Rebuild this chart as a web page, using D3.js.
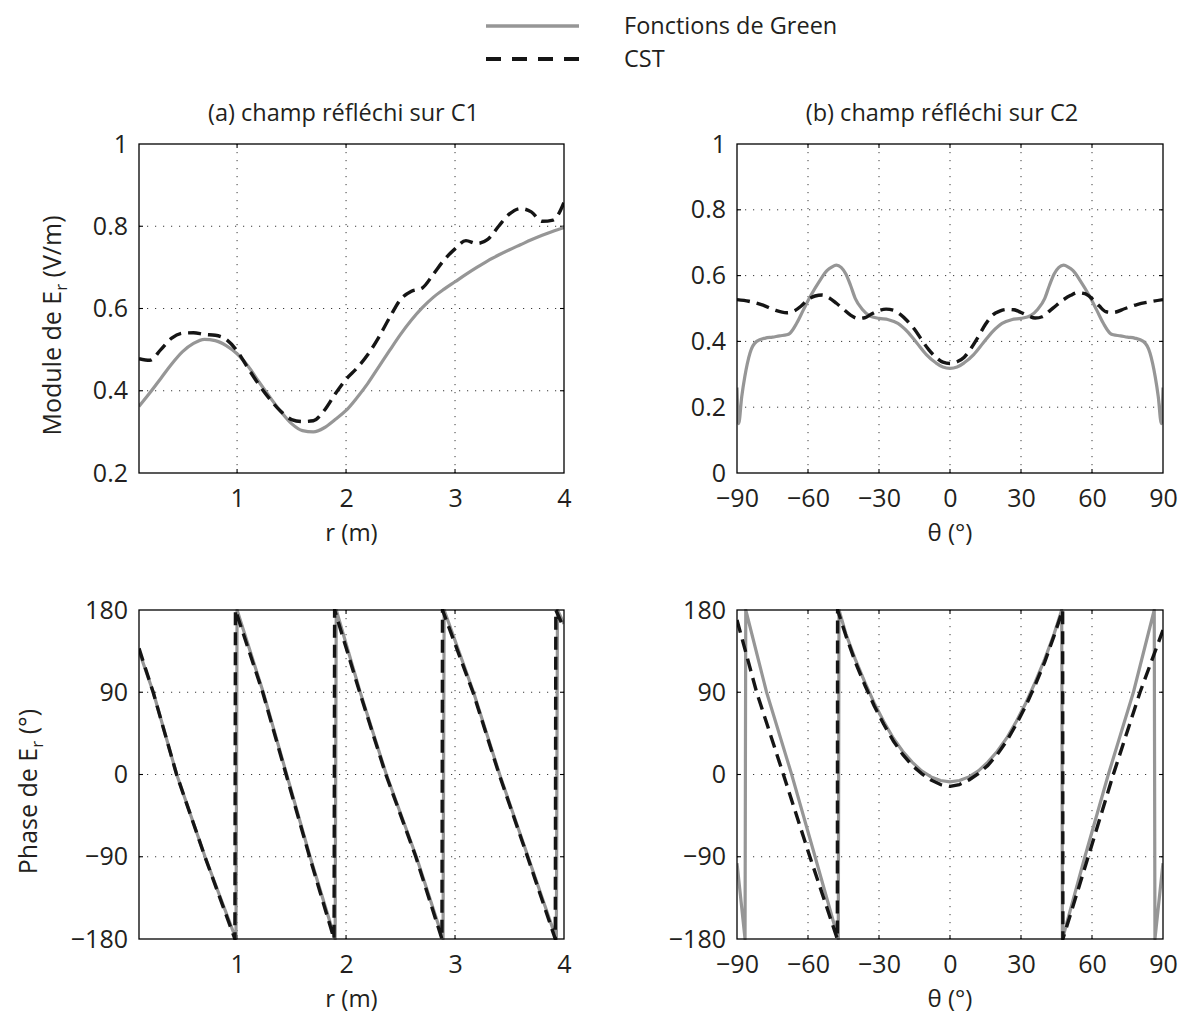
<!DOCTYPE html>
<html><head><meta charset="utf-8">
<script src="https://cdn.jsdelivr.net/npm/d3@7"></script>
<style>
body{margin:0;background:#fff;}
svg text{font-family:"Open Sans",sans-serif;fill:#231f20;}
</style></head><body>
<svg id="chart" width="1184" height="1014"></svg>
<script>
// ---------- DATA ----------
const seriesNames = ["Fonctions de Green", "CST"];
const titles = ["(a) champ réfléchi sur C1", "(b) champ réfléchi sur C2"];

// (a) module vs r
const aR = [0.1,0.2,0.3,0.4,0.5,0.6,0.7,0.8,0.9,1.0,1.1,1.2,1.3,1.4,1.5,1.6,1.7,1.8,1.9,2.0,
            2.1,2.2,2.3,2.4,2.5,2.6,2.7,2.8,2.9,3.0,3.1,3.2,3.3,3.4,3.5,3.6,3.7,3.8,3.9,4.0];
const aGreen = [0.362,0.395,0.430,0.465,0.495,0.515,0.525,0.522,0.510,0.490,0.460,0.422,0.385,0.350,0.320,0.303,0.300,0.310,0.330,0.352,
                0.383,0.418,0.458,0.498,0.537,0.572,0.602,0.627,0.647,0.665,0.683,0.700,0.716,0.730,0.743,0.755,0.767,0.778,0.788,0.797];
const aCST = [0.478,0.474,0.500,0.528,0.540,0.541,0.537,0.535,0.525,0.497,0.455,0.415,0.380,0.350,0.330,0.325,0.327,0.352,0.392,0.428,
              0.455,0.488,0.530,0.578,0.622,0.642,0.650,0.683,0.718,0.745,0.765,0.758,0.768,0.800,0.830,0.843,0.835,0.812,0.815,0.858];

// (b) module vs theta
const bThetaGreen = [-90,-89.3,-88,-86.7,-84.5,-81.7,-78,-75,-72,-69,-67.6,-64.8,-62,-59,-55,-52,-50,-48,-46,-44,-42,-40,-37,-34,-30,-26,-22,-18,-14,-10,-6,-3,0,
                     3,6,10,14,18,22,26,30,34,37,40,42,44,46,48,50,52,55,59,62,64.8,67.6,69,72,75,78,81.7,84.5,86.7,88,89.3,90];
const bGreen = [0.26,0.15,0.232,0.293,0.365,0.40,0.41,0.413,0.417,0.42,0.425,0.455,0.495,0.537,0.585,0.615,0.626,0.632,0.625,0.605,0.57,0.53,0.497,0.478,0.47,0.466,0.455,0.43,0.395,0.36,0.335,0.322,0.318,
                0.322,0.335,0.36,0.395,0.43,0.455,0.466,0.47,0.478,0.497,0.53,0.57,0.605,0.625,0.632,0.626,0.615,0.585,0.537,0.495,0.455,0.425,0.42,0.417,0.413,0.41,0.40,0.365,0.293,0.232,0.15,0.26];
const bThetaCST = [-90,-85,-79,-74,-69,-66,-63,-60,-57,-54,-51,-48,-45,-42,-39,-36,-33,-30,-27,-24,-21,-18,-15,-12,-9,-6,-3,0,
                   3,6,9,12,15,18,21,24,27,30,33,36,39,42,45,48,51,54,57,60,63,66,69,74,79,85,90];
const bCST = [0.527,0.522,0.510,0.495,0.487,0.492,0.507,0.527,0.538,0.541,0.532,0.516,0.498,0.480,0.470,0.472,0.484,0.494,0.498,0.495,0.482,0.462,0.437,0.405,0.375,0.352,0.337,0.333,
              0.338,0.352,0.380,0.415,0.452,0.480,0.492,0.497,0.496,0.488,0.478,0.471,0.475,0.492,0.510,0.527,0.540,0.548,0.545,0.530,0.508,0.490,0.488,0.500,0.512,0.521,0.527];

// (c) phase vs r
const cRGreen = [0.1,0.231,0.446,0.706,0.99,1.0,1.24,1.455,1.67,1.90,1.91,2.13,2.37,2.645,2.89,2.90,3.17,3.41,3.67,3.93,3.94,4.0];
const cGreen = [135,90,0,-90,-180,180,90,0,-90,-180,180,90,0,-90,-180,180,90,0,-90,-180,180,165];
const cRCST = [0.1,0.23,0.445,0.705,0.98,0.985,1.235,1.45,1.665,1.89,1.895,2.125,2.365,2.64,2.88,2.885,3.165,3.405,3.665,3.92,3.925,4.0];
const cCST = [138,90,0,-90,-180,180,90,0,-90,-180,180,90,0,-90,-180,180,90,0,-90,-180,180,160];

// (d) phase vs theta
const dThetaGreen = [-90,-86.6,-86.3,-77.5,-66.9,-57,-47.2,-46.9,-44,-40,-36,-32,-28,-24,-20,-16,-12,-8,-4,0,
                     4,8,12,16,20,24,28,32,36,40,44,47.2,47.5,57,66.9,77.5,86.3,86.6,90];
const dGreen = [-97,-180,180,90,0,-90,-180,180,154,126,101,78,58,40,25.5,13.5,4,-2.6,-6.6,-8,
                -6.6,-2.6,4,13.5,25.5,40,58,78,101,126,154,180,-180,-90,0,90,180,-180,-97];
const dThetaCST = [-90,-86,-81.7,-70.4,-59.2,-47.6,-47.5,-44,-40,-36,-32,-28,-24,-20,-16,-12,-8,-4,0,
                   4,8,12,16,20,24,28,32,36,40,44,47.6,47.7,58.4,69,80.3,90];
const dCST = [169,131,90,0,-90,-180,180,152,123,98,75,55,37,22,10,1,-6,-11,-13,
              -11,-6,1,10,22,37,55,75,98,123,152,180,-180,-90,0,90,158];

const rTicks = [1,2,3,4];
const thetaTicks = [-90,-60,-30,0,30,60,90];
const modATicks = [0.2,0.4,0.6,0.8,1];
const modBTicks = [0,0.2,0.4,0.6,0.8,1];
const phaseTicks = [-180,-90,0,90,180];

// ---------- DRAW ----------
const svg = d3.select("#chart");
const GREY = "#969696", DARK = "#151515";
const fmtMod = d => (d === 0 ? "0" : d === 1 ? "1" : d3.format(".1f")(d));
const fmtInt = d3.format("d");

let clipId = 0;
function panel(cfg) {
  const b = cfg.box;
  const x = d3.scaleLinear().domain(cfg.xDomain).range([b.x0, b.x1]);
  const y = d3.scaleLinear().domain(cfg.yDomain).range([b.y1, b.y0]);
  const g = svg.append("g");
  const inX = cfg.xTicks.filter(t => t > cfg.xDomain[0] && t < cfg.xDomain[1]);
  const inY = cfg.yTicks.filter(t => t > cfg.yDomain[0] && t < cfg.yDomain[1]);

  // dotted grid
  g.selectAll("line.gx").data(inX).join("line").attr("class", "gx")
    .attr("x1", d => x(d)).attr("x2", d => x(d)).attr("y1", b.y0).attr("y2", b.y1)
    .attr("stroke", "#3a3a3a").attr("stroke-width", 1).attr("stroke-dasharray", "1.2,6.8");
  g.selectAll("line.gy").data(inY).join("line").attr("class", "gy")
    .attr("y1", d => y(d)).attr("y2", d => y(d)).attr("x1", b.x0).attr("x2", b.x1)
    .attr("stroke", "#3a3a3a").attr("stroke-width", 1).attr("stroke-dasharray", "1.2,6.8");

  // inner tick marks on all four sides
  const tl = 4;
  g.selectAll("line.tx").data(inX.flatMap(d => [[d, b.y1, -tl], [d, b.y0, tl]])).join("line")
    .attr("x1", d => x(d[0])).attr("x2", d => x(d[0])).attr("y1", d => d[1]).attr("y2", d => d[1] + d[2])
    .attr("stroke", "#000").attr("stroke-width", 1.1);
  g.selectAll("line.ty").data(inY.flatMap(d => [[d, b.x0, tl], [d, b.x1, -tl]])).join("line")
    .attr("y1", d => y(d[0])).attr("y2", d => y(d[0])).attr("x1", d => d[1]).attr("x2", d => d[1] + d[2])
    .attr("stroke", "#000").attr("stroke-width", 1.1);

  // data
  const id = "clip" + (clipId++);
  svg.append("clipPath").attr("id", id).append("rect")
    .attr("x", b.x0).attr("y", b.y0 - 1).attr("width", b.x1 - b.x0).attr("height", b.y1 - b.y0 + 2);
  const dg = g.append("g").attr("clip-path", `url(#${id})`);
  cfg.series.forEach(s => {
    const pts = s.xs.map((v, i) => [v, s.ys[i]]);
    const line = d3.line().x(d => x(d[0])).y(d => y(d[1])).curve(cfg.curve);
    dg.append("path").attr("d", line(pts)).attr("fill", "none")
      .attr("stroke", s.color).attr("stroke-width", s.width)
      .attr("stroke-dasharray", s.dash || null).attr("stroke-linejoin", "round");
  });

  // frame
  g.append("rect").attr("x", b.x0).attr("y", b.y0).attr("width", b.x1 - b.x0).attr("height", b.y1 - b.y0)
    .attr("fill", "none").attr("stroke", "#000").attr("stroke-width", 1.3);

  // axes labels (d3 axes, no lines)
  const ax = g.append("g").attr("transform", `translate(0,${b.y1})`)
    .call(d3.axisBottom(x).tickValues(cfg.xTicks).tickFormat(cfg.xFmt).tickSize(0).tickPadding(16));
  const ay = g.append("g").attr("transform", `translate(${b.x0},0)`)
    .call(d3.axisLeft(y).tickValues(cfg.yTicks).tickFormat(cfg.yFmt).tickSize(0).tickPadding(11));
  [ax, ay].forEach(a => {
    a.select(".domain").remove();
    a.selectAll("text").attr("font-size", 25).attr("fill", "#231f20").style("font-family", '"Open Sans",sans-serif');
  });

  // x label
  g.append("text").attr("x", (b.x0 + b.x1) / 2).attr("y", b.y1 + 68).attr("text-anchor", "middle")
    .attr("font-size", 24).text(cfg.xLabel);

  if (cfg.yLabel) {
    const t = g.append("text").attr("transform", `translate(${cfg.yLabelX},${(b.y0 + b.y1) / 2 + 17}) rotate(-90)`)
      .attr("text-anchor", "middle").attr("font-size", 25);
    t.append("tspan").text(cfg.yLabel[0]);
    t.append("tspan").attr("font-size", 17).attr("dy", 6).text(cfg.yLabel[1]);
    t.append("tspan").attr("dy", -6).text(cfg.yLabel[2]);
  }
  if (cfg.title) {
    g.append("text").attr("x", (b.x0 + b.x1) / 2 - 8).attr("y", b.y0 - 23).attr("text-anchor", "middle")
      .attr("font-size", 23.5).text(cfg.title);
  }
}

const green = (xs, ys) => ({xs, ys, color: GREY, width: 3.2});
const cst = (xs, ys) => ({xs, ys, color: DARK, width: 3.4, dash: "13,7"});

panel({box: {x0: 139, x1: 564, y0: 144, y1: 473}, xDomain: [0.1, 4], yDomain: [0.2, 1],
  xTicks: rTicks, yTicks: modATicks, xFmt: fmtInt, yFmt: fmtMod, curve: d3.curveMonotoneX,
  xLabel: "r (m)", yLabel: ["Module de E", "r", " (V/m)"], yLabelX: 61, title: titles[0],
  series: [green(aR, aGreen), cst(aR, aCST)]});
panel({box: {x0: 737, x1: 1163, y0: 144, y1: 473}, xDomain: [-90, 90], yDomain: [0, 1],
  xTicks: thetaTicks, yTicks: modBTicks, xFmt: fmtInt, yFmt: fmtMod, curve: d3.curveMonotoneX,
  xLabel: "θ (°)", title: titles[1],
  series: [green(bThetaGreen, bGreen), cst(bThetaCST, bCST)]});
panel({box: {x0: 139, x1: 564, y0: 610, y1: 939}, xDomain: [0.1, 4], yDomain: [-180, 180],
  xTicks: rTicks, yTicks: phaseTicks, xFmt: fmtInt, yFmt: fmtInt, curve: d3.curveLinear,
  xLabel: "r (m)", yLabel: ["Phase de E", "r", " (°)"], yLabelX: 37,
  series: [green(cRGreen, cGreen), cst(cRCST, cCST)]});
panel({box: {x0: 737, x1: 1163, y0: 610, y1: 939}, xDomain: [-90, 90], yDomain: [-180, 180],
  xTicks: thetaTicks, yTicks: phaseTicks, xFmt: fmtInt, yFmt: fmtInt, curve: d3.curveLinear,
  xLabel: "θ (°)",
  series: [green(dThetaGreen, dGreen), cst(dThetaCST, dCST)]});

// legend
const lg = svg.append("g");
const lx = d3.scaleLinear().domain([0, 1]).range([486, 579]);
lg.append("line").attr("x1", lx(0)).attr("x2", lx(1)).attr("y1", 26).attr("y2", 26)
  .attr("stroke", GREY).attr("stroke-width", 3.5);
lg.append("line").attr("x1", lx(0)).attr("x2", lx(1)).attr("y1", 59).attr("y2", 59)
  .attr("stroke", DARK).attr("stroke-width", 4).attr("stroke-dasharray", "15,11");
lg.append("text").attr("x", 624).attr("y", 34).attr("font-size", 23.5).text(seriesNames[0]);
lg.append("text").attr("x", 624).attr("y", 67).attr("font-size", 23.5).text(seriesNames[1]);
</script>
</body></html>
